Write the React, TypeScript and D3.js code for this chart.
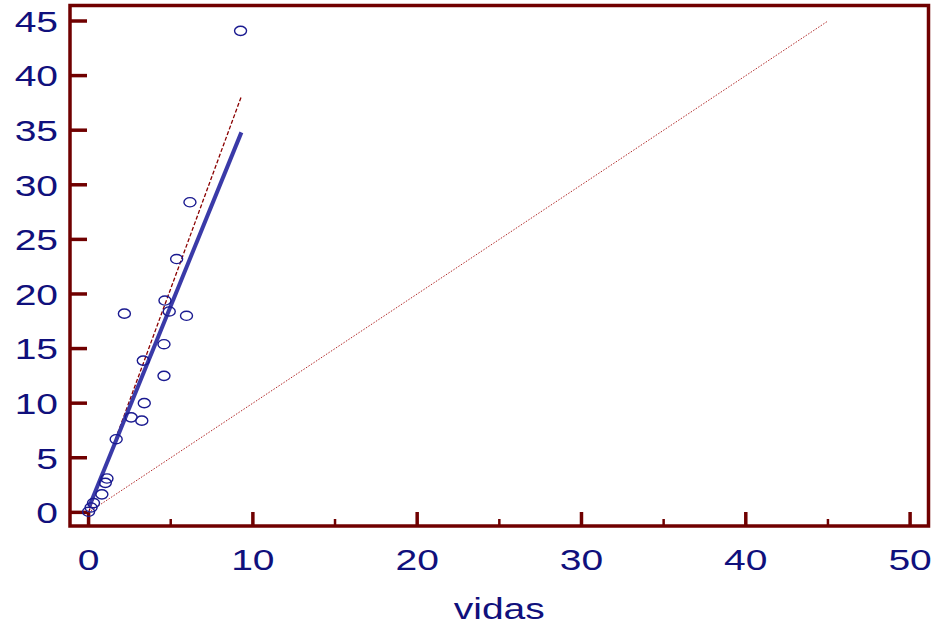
import React, { useEffect, useRef } from 'react';
import * as d3 from 'd3';

// observed points (vidas on x)
const vidas = [9.25, 6.17, 5.36, 2.18, 4.65, 4.91, 5.96, 4.59, 3.33, 4.59, 3.39, 2.59, 3.24, 1.68, 1.12, 1.02, 0.81, 0.3, 0.15, 0.0];
const values = [44.1, 28.4, 23.2, 18.2, 19.4, 18.4, 18.0, 15.4, 13.9, 12.5, 10.0, 8.7, 8.4, 6.7, 3.1, 2.7, 1.65, 0.85, 0.45, 0.05];

// fitted line (solid blue) and second fit (dashed), in data units
const fitLine = [[0.05, 0.58], [9.3, 34.8]];
const dashedLine = [[0.0, 0.0], [9.3, 38.1]];
const identityLine = [[0, 0], [45, 45]];

const yTicks = [0, 5, 10, 15, 20, 25, 30, 35, 40, 45];
const xMajorTicks = [0, 10, 20, 30, 40, 50];
const xMinorTicks = [5, 15, 25, 35, 45];
const xTitle = 'vidas';

const W = 942;
const H = 633;
const axisColor = '#700000';
const textColor = '#10107c';
const FONT = '"Liberation Sans", Arial, sans-serif';
const STRETCH = 1.3; // text is drawn wide in the original

const App = () => {
  const svgRef = useRef<SVGSVGElement>(null);

  useEffect(() => {
    const svg = d3.select(svgRef.current);
    svg.selectAll('*').remove();

    const left = 70, right = 928.5, top = 5.5, bottom = 526;

    const x = d3.scaleLinear().domain([-1.13, 51.12]).range([left, right]);
    const y = d3.scaleLinear().domain([-1.25, 46.42]).range([bottom, top]);

    const line = d3.line<number[]>().x(d => x(d[0])).y(d => y(d[1]));

    // frame
    svg.append('rect')
      .attr('x', left).attr('y', top)
      .attr('width', right - left).attr('height', bottom - top)
      .attr('fill', 'none')
      .attr('stroke', axisColor)
      .attr('stroke-width', 3.5);

    // y ticks (inward)
    svg.append('g').selectAll('line')
      .data(yTicks)
      .join('line')
        .attr('x1', left).attr('x2', left + 17)
        .attr('y1', d => y(d)).attr('y2', d => y(d))
        .attr('stroke', axisColor)
        .attr('stroke-width', 3.5);

    // x ticks
    svg.append('g').selectAll('line')
      .data(xMajorTicks)
      .join('line')
        .attr('x1', d => x(d)).attr('x2', d => x(d))
        .attr('y1', bottom).attr('y2', bottom - 14)
        .attr('stroke', axisColor)
        .attr('stroke-width', 3.5);

    svg.append('g').selectAll('line')
      .data(xMinorTicks)
      .join('line')
        .attr('x1', d => x(d)).attr('x2', d => x(d))
        .attr('y1', bottom).attr('y2', bottom - 7)
        .attr('stroke', axisColor)
        .attr('stroke-width', 2.5);

    // tick labels
    svg.append('g').selectAll('g')
      .data(yTicks)
      .join('g')
        .attr('transform', d => `translate(58,${y(d) + 10.8}) scale(${STRETCH},1)`)
      .append('text')
        .attr('text-anchor', 'end')
        .attr('font-family', FONT)
        .attr('font-size', 30)
        .attr('fill', textColor)
        .text(d => d);

    svg.append('g').selectAll('g')
      .data(xMajorTicks)
      .join('g')
        .attr('transform', d => `translate(${x(d)},570) scale(${STRETCH},1)`)
      .append('text')
        .attr('text-anchor', 'middle')
        .attr('font-family', FONT)
        .attr('font-size', 30)
        .attr('fill', textColor)
        .text(d => d);

    svg.append('g')
      .attr('transform', `translate(${(left + right) / 2},619) scale(${STRETCH},1)`)
      .append('text')
        .attr('text-anchor', 'middle')
        .attr('font-family', FONT)
        .attr('font-size', 30)
        .attr('fill', textColor)
        .text(xTitle);

    // reference lines
    svg.append('path')
      .attr('d', line(identityLine))
      .attr('fill', 'none')
      .attr('stroke', '#b22a2a')
      .attr('stroke-width', 1)
      .attr('stroke-dasharray', '1.5,1.5');

    svg.append('path')
      .attr('d', line(dashedLine))
      .attr('fill', 'none')
      .attr('stroke', '#8a0000')
      .attr('stroke-width', 1.3)
      .attr('stroke-dasharray', '4,2');

    svg.append('path')
      .attr('d', line(fitLine))
      .attr('fill', 'none')
      .attr('stroke', '#3a3aa8')
      .attr('stroke-width', 4);

    // points
    svg.append('g').selectAll('ellipse')
      .data(vidas.map((v, i) => [v, values[i]]))
      .join('ellipse')
        .attr('cx', d => x(d[0]))
        .attr('cy', d => y(d[1]))
        .attr('rx', 6)
        .attr('ry', 4.6)
        .attr('fill', 'none')
        .attr('stroke', '#1a1a90')
        .attr('stroke-width', 1.4);
  }, []);

  return (
    <svg
      ref={svgRef}
      width={W}
      height={H}
      style={{ position: 'absolute', left: 0, top: 0, background: '#fff', display: 'block' }}
    />
  );
};

export default App;
